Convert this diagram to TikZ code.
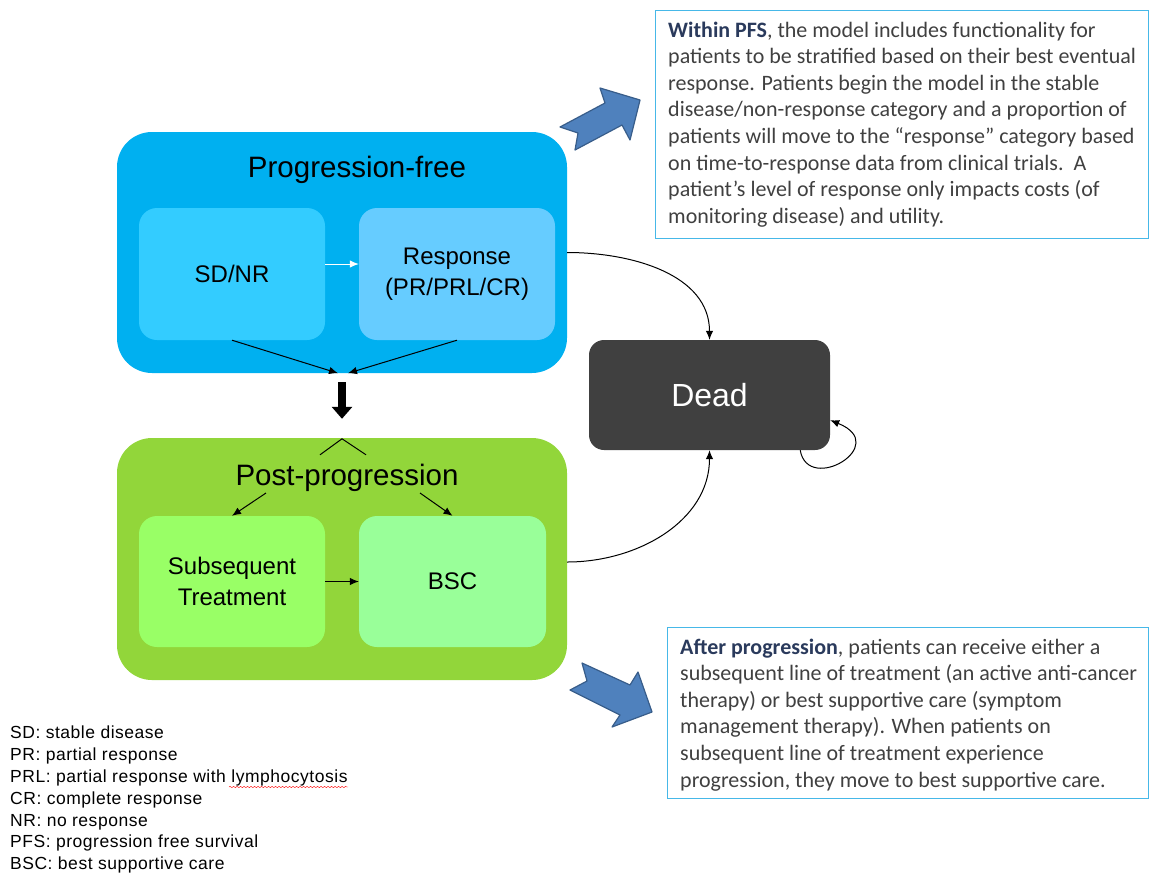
\documentclass[tikz,border=0pt]{standalone}
\usepackage{fontspec}
\setmainfont{Liberation Sans}
\newfontfamily\calib{Carlito}
\newfontfamily\legendfont{Liberation Sans}[LetterSpace=3]
\usetikzlibrary{arrows.meta,decorations.pathmorphing}
\definecolor{pfsblue}{HTML}{00B0F0}
\definecolor{sdcol}{HTML}{33CCFF}
\definecolor{respcol}{HTML}{66CCFF}
\definecolor{postgreen}{HTML}{92D63A}
\definecolor{subcol}{HTML}{99FF66}
\definecolor{bsccol}{HTML}{99FF99}
\definecolor{deadcol}{HTML}{404040}
\definecolor{tboxedge}{HTML}{46B8E8}
\definecolor{boxtext}{HTML}{404040}
\definecolor{boldtext}{HTML}{2A3A5C}
\definecolor{arrowblue}{HTML}{4F81BD}
\definecolor{arrowedge}{HTML}{385D8A}
\begin{document}
\begin{tikzpicture}[x=1pt,y=-1pt,
  bigbox/.style={rounded corners=35pt, inner sep=0pt},
  statebox/.style={rounded corners=18pt, inner sep=0pt, align=center, font=\fontsize{24}{30.5}\selectfont},
  titletext/.style={inner sep=0pt, font=\fontsize{29.5}{34}\selectfont},
  conn/.style={line width=1pt, -{Latex[length=9pt,width=7.5pt]}},
  tbox/.style={draw=tboxedge, line width=1.2pt, inner sep=0pt},
  tboxtext/.style={anchor=north west, align=left, inner sep=0pt, text=boxtext, font=\calib\fontsize{22}{26.6}\selectfont},
  bluearrow/.style={fill=arrowblue, draw=arrowedge, line width=1.2pt, line join=round}]
\useasboundingbox (0,0) rectangle (1150,873);

% Progression-free
\node[bigbox, fill=pfsblue, minimum width=450pt, minimum height=241pt] (pfs) at (342,252.5) {};
\node[titletext] (pfstitle) at (357,169.5) {Progression-free};
\node[statebox, fill=sdcol, minimum width=186pt, minimum height=132pt] (sdnr) at (232,274) {SD/NR};
\node[statebox, fill=respcol, minimum width=196pt, minimum height=132pt] (resp) at (457,274) {Response\\(PR/PRL/CR)};

% Post-progression
\node[bigbox, fill=postgreen, minimum width=450pt, minimum height=242pt] (post) at (342,559) {};
\node[titletext] (posttitle) at (347,478) {Post-progression};
\node[statebox, fill=subcol, minimum width=186pt, minimum height=131pt] (subt) at (232,581.5) {Subsequent\\Treatment};
\node[statebox, fill=bsccol, minimum width=187pt, minimum height=131pt] (bsc) at (452.5,581.5) {BSC};

% Dead
\node[fill=deadcol, rounded corners=15pt, minimum width=241pt, minimum height=110pt, inner sep=0pt, text=white, font=\fontsize{32}{38}\selectfont] (dead) at (709.5,395) {Dead};

% connectors inside PFS
\draw[conn, white] ([yshift=10pt]sdnr.east) -- ([yshift=10pt]resp.west);
\draw[conn] (sdnr.south) -- ([xshift=-4pt]pfs.south);
\draw[conn] (resp.south) -- ([xshift=6pt]pfs.south);

% thick arrow PFS -> Post
\draw[line width=8pt, -{Triangle[length=12pt,width=20pt]}] ([yshift=-9pt]pfs.south) -- ([yshift=19pt]post.north);
\draw[line width=1pt] ([xshift=-22pt,yshift=-17pt]post.north) -- ([yshift=-1pt]post.north) -- ([xshift=24pt,yshift=-17pt]post.north);

% connectors inside Post
\coordinate (pa) at (266,493);
\coordinate (pb) at (420,493);
\draw[conn] (pa) -- (subt.north);
\draw[conn] (pb) -- (bsc.north);
\draw[conn] (subt) -- (bsc);

% to Dead
\draw[conn] (pfs.east) to[out=0,in=90] (dead.north);
\draw[conn] ([yshift=-3pt]post.east) to[out=0,in=-90] (dead.south);
\draw[conn] ([xshift=-30pt]dead.south east) .. controls (808,495) and (892,445) .. ([yshift=30pt]dead.south east);

% blue block arrows
\filldraw[bluearrow] (560,127) -- (605,103) -- (600,88) -- (640,100) -- (630,140) -- (622,125) -- (575,150) -- (578,133) -- cycle;
\filldraw[bluearrow] (582,663) -- (630,685) -- (638,672) -- (652,712) -- (612,727) -- (620,715) -- (570,690) -- (587,681) -- cycle;

% text boxes
\node[tbox, minimum width=493pt, minimum height=228pt, anchor=north west] (box1) at (655,10) {};
\node[tboxtext] (txt1) at (668,21.5) {\textcolor{boldtext}{\textbf{Within PFS}}, the model includes functionality for\\
patients to be stratified based on their best eventual\\
response. Patients begin the model in the stable\\
disease/non-response category and a proportion of\\
patients will move to the “response” category based\\
on time-to-response data from clinical trials.~~A\\
patient’s level of response only impacts costs (of\\
monitoring disease) and utility.};

\node[tbox, minimum width=481pt, minimum height=171pt, anchor=north west] (box2) at (667,627) {};
\node[tboxtext] (txt2) at (680,638.5) {\textcolor{boldtext}{\textbf{After progression}}, patients can receive either a\\
subsequent line of treatment (an active anti-cancer\\
therapy) or best supportive care (symptom\\
management therapy). When patients on\\
subsequent line of treatment experience\\
progression, they move to best supportive care.};

% legend
\node[anchor=north west, align=left, inner sep=0pt, font=\legendfont\fontsize{17.5}{21.8}\selectfont] (legend) at (10,726) {SD: stable disease\\
PR: partial response\\
PRL: partial response with lymphocytosis\\
CR: complete response\\
NR: no response\\
PFS: progression free survival\\
BSC: best supportive care};
\draw[red, decorate, decoration={snake, amplitude=0.7pt, segment length=3.5pt}] (229,787) -- (348,787);
\end{tikzpicture}
\end{document}
